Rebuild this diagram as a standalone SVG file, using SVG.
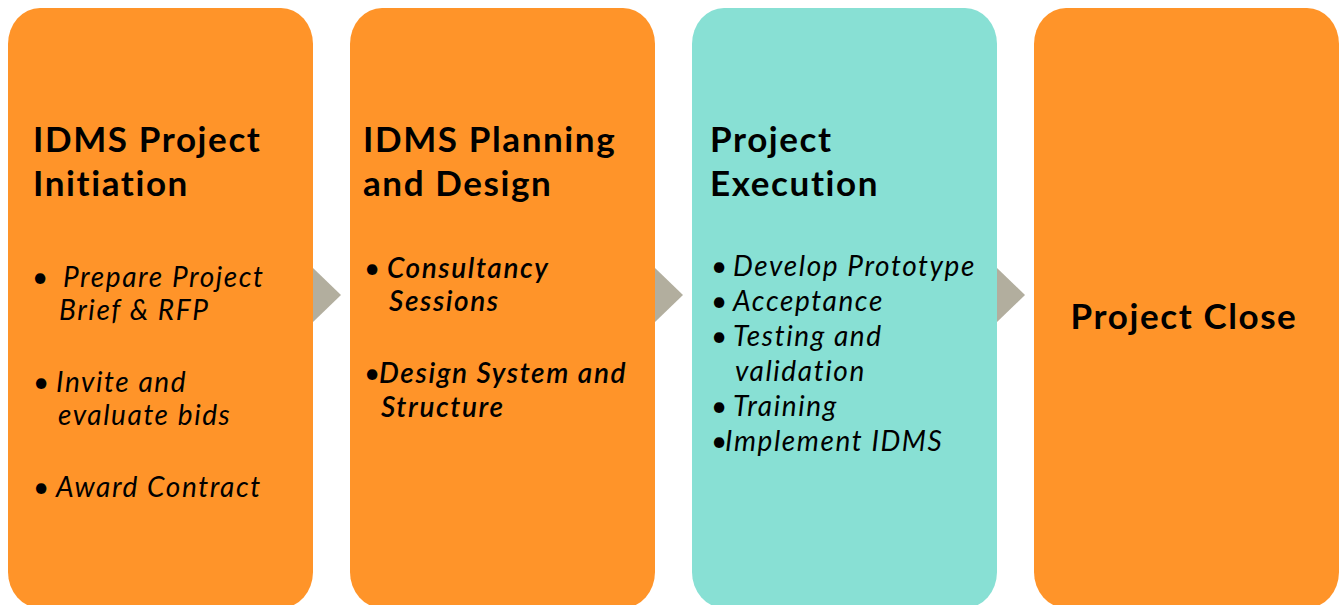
<svg xmlns="http://www.w3.org/2000/svg" width="1342" height="605" viewBox="0 0 1342 605">
<style>
.box{fill:#FF9429}
.teal{fill:#88E0D4}
.arr{fill:#B2AE9E}
.t{font-family:Lato,"Noto Sans",sans-serif;font-weight:bold;font-size:35px;letter-spacing:1.6px;fill:#000}
.b{font-family:Lato,"Noto Sans",sans-serif;font-style:italic;font-size:28px;letter-spacing:1.6px;fill:#000}
.bm{font-family:Lato,"Noto Sans",sans-serif;font-style:italic;font-weight:600;font-size:28px;letter-spacing:1.6px;fill:#000}
.d{font-family:Lato,"Noto Sans",sans-serif;font-size:28px;fill:#000}
</style>
<rect width="1342" height="605" fill="#fff"/>
<g id="connectors">
<polygon class="arr" points="313,268 341,295 313,322"/>
<polygon class="arr" points="655,268 683,295 655,322"/>
<polygon class="arr" points="997,268 1025,295 997,322"/>
</g>
<g id="n1">
<rect class="box" x="8" y="8" width="305" height="600" rx="32" ry="36"/>
<text class="t" x="33" y="152">IDMS Project</text>
<text class="t" x="33" y="196">Initiation</text>
<text class="d" x="32" y="287" font-size="34">•</text>
<text class="b" x="63" y="287">Prepare Project</text>
<text class="b" x="59" y="320">Brief &amp; RFP</text>
<text class="d" x="33" y="392">•</text>
<text class="b" x="56" y="392">Invite and</text>
<text class="b" x="58" y="425">evaluate bids</text>
<text class="d" x="33" y="497">•</text>
<text class="b" x="56" y="497">Award Contract</text>
</g>
<g id="n2">
<rect class="box" x="350" y="8" width="305" height="600" rx="32" ry="36"/>
<text class="t" x="363" y="152">IDMS Planning</text>
<text class="t" x="363" y="196">and Design</text>
<text class="d" x="364" y="278">•</text>
<text class="bm" x="387" y="278">Consultancy</text>
<text class="bm" x="389" y="311">Sessions</text>
<text class="d" x="364" y="383">•</text>
<text class="bm" x="379" y="383">Design System and</text>
<text class="bm" x="381" y="417">Structure</text>
</g>
<g id="n3">
<rect class="teal" x="692" y="8" width="305" height="600" rx="32" ry="36"/>
<text class="t" x="710" y="152">Project</text>
<text class="t" x="710" y="196">Execution</text>
<text class="d" x="711" y="276">•</text>
<text class="b" x="733" y="276">Develop Prototype</text>
<text class="d" x="711" y="311">•</text>
<text class="b" x="733" y="311">Acceptance</text>
<text class="d" x="711" y="346">•</text>
<text class="b" x="733" y="346">Testing and</text>
<text class="b" x="735" y="381">validation</text>
<text class="d" x="711" y="416">•</text>
<text class="b" x="733" y="416">Training</text>
<text class="d" x="711" y="451">•</text>
<text class="b" x="725" y="451">Implement IDMS</text>
</g>
<g id="n4">
<rect class="box" x="1034" y="8" width="305" height="600" rx="32" ry="36"/>
<text class="t" x="1184" y="329" text-anchor="middle">Project Close</text>
</g>
</svg>
